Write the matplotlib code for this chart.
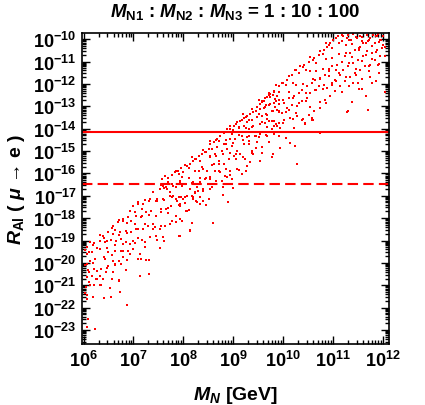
import numpy as np
import matplotlib
matplotlib.use("Agg")
import matplotlib.pyplot as plt
from matplotlib.ticker import LogLocator, FuncFormatter

plt.rcParams['font.family'] = ['Liberation Sans', 'DejaVu Sans']
plt.rcParams['font.weight'] = 'bold'
plt.rcParams['axes.labelweight'] = 'bold'
plt.rcParams['mathtext.fontset'] = 'custom'
plt.rcParams['mathtext.rm'] = 'Liberation Sans:bold'
plt.rcParams['mathtext.it'] = 'Liberation Sans:italic:bold'
plt.rcParams['mathtext.bf'] = 'Liberation Sans:bold'

# scan points as log10(M_N/GeV), log10(R_Al)
log_mn = [
    # low masses
    6.06, 6.08, 6.24, 6.88, 6.06, 6.56, 6.74, 6.06, 6.05, 6.13, 6.20, 6.36, 6.53,
    6.26, 6.40, 6.72, 7.14, 7.32, 6.06, 6.16, 6.33, 6.46, 6.60, 6.86, 6.08, 6.20,
    6.36, 6.50, 6.63, 6.76, 6.06, 6.13, 6.23, 6.43, 6.60, 6.72, 6.80, 6.93, 7.16,
    7.26, 6.06, 6.16, 6.50, 6.63, 6.76, 6.90, 7.00, 7.13, 7.53, 6.06, 6.13, 6.20,
    6.33, 6.43, 6.56, 6.66, 6.76, 6.86, 7.00, 7.10, 7.23, 7.33, 7.46, 7.60, 7.93,
    8.13, 6.40, 6.50, 6.60, 6.73, 6.86, 6.96, 7.06, 7.20, 7.30, 7.43, 7.53, 7.63,
    7.73, 7.86, 7.93, 8.06, 6.60, 6.70, 6.80, 6.90, 6.96, 7.06, 7.16, 7.26, 7.36,
    7.46, 7.56, 7.66, 7.76, 7.93, 7.00, 7.10, 7.20, 7.33, 7.46, 7.60, 7.73, 7.86,
    7.96, 8.20, 8.26, 7.40, 7.53, 7.66, 7.80, 7.93, 8.06, 8.20, 8.23, 8.30,
    8.80, 8.90, 8.60, 8.14, 8.07, 7.92,
    # middle band
    7.57, 7.64, 7.70, 7.77, 7.84, 7.90, 7.95, 8.00, 8.07, 8.14, 8.20, 8.26, 8.31,
    8.38, 8.44, 8.51, 8.54, 8.61, 8.67, 8.74, 8.81, 8.87, 8.94, 9.01, 9.07, 9.14,
    9.21, 9.27, 9.34, 9.40, 9.47, 9.54, 9.61, 9.67, 9.74, 9.81, 9.87, 9.91,
    7.60, 7.67, 7.74, 7.80, 7.87, 7.94, 8.00, 8.07, 8.17, 8.20, 8.27, 8.34, 8.40,
    8.51, 8.14, 8.27, 8.40, 8.54, 8.77, 8.87, 8.97, 7.94, 8.04, 8.34, 8.44, 8.54,
    8.64, 8.74, 8.84, 8.94, 9.07, 9.17, 9.27, 8.31, 8.38, 8.47, 8.61, 8.71, 8.81,
    8.91, 9.01, 9.14, 9.24, 9.34, 9.40, 9.54, 8.54, 8.64, 8.77, 8.87, 8.97, 9.07,
    9.21, 9.31, 9.37, 9.47, 9.57, 8.67, 8.81, 8.94, 9.04, 9.17, 9.27, 9.44, 9.54,
    9.67, 9.81, 9.91, 8.87, 8.97, 9.11, 9.21, 9.31, 9.40, 9.54, 9.67, 9.77, 9.87,
    9.17, 9.27, 9.37, 9.47, 9.57, 9.67, 9.81, 9.54, 9.64, 9.74, 9.84, 9.91, 9.74,
    9.84,
    # high masses
    9.57, 9.64, 9.71, 9.81, 9.91, 9.97, 10.07, 10.17, 10.24, 10.34, 10.41, 10.51,
    10.61, 10.71, 10.81, 10.88, 10.94, 11.01, 11.11, 11.21, 11.31, 11.41, 11.54,
    11.68, 11.81, 11.91, 12.01, 9.61, 9.71, 9.81, 9.91, 10.01, 10.11, 10.21, 10.31,
    10.38, 10.48, 10.58, 10.64, 10.74, 10.84, 10.91, 10.98, 11.08, 11.18, 11.24,
    11.34, 11.44, 11.54, 11.61, 11.71, 11.84, 11.94, 12.01, 9.67, 9.77, 9.87, 9.97,
    10.07, 10.17, 10.27, 10.38, 10.48, 10.54, 10.64, 10.71, 10.81, 10.88, 10.98,
    11.04, 11.14, 11.21, 11.31, 11.41, 11.51, 11.61, 11.68, 11.78, 11.88, 11.98,
    9.64, 9.77, 9.91, 10.01, 10.14, 10.27, 10.38, 10.51, 10.61, 10.74, 10.84, 10.94,
    11.04, 11.14, 11.24, 11.34, 11.44, 11.54, 11.64, 11.74, 11.84, 11.94, 10.44,
    10.58, 11.31, 11.71, 11.51, 11.41, 11.74, 11.91, 10.74, 9.81, 9.94, 10.21,
    11.18, 11.28, 11.37, 11.48, 11.58, 11.74, 11.88, 11.96, 10.27, 10.24, 10.13,
    11.28, 11.58, 10.44, 10.58, 9.77, 9.94,
]
log_r = [
    # low masses
    -22.87, -22.53, -22.95, -21.90, -21.61, -21.53, -21.28, -21.43, -21.09, -21.01,
    -21.01, -20.98, -21.13, -20.71, -20.71, -20.79, -20.57, -20.49, -20.64, -20.57,
    -20.57, -20.42, -20.42, -20.30, -20.34, -20.27, -20.27, -20.12, -20.04, -20.04,
    -20.04, -19.90, -19.82, -19.82, -19.90, -19.90, -19.75, -19.60, -19.82, -19.85,
    -19.60, -19.52, -19.52, -19.49, -19.45, -19.45, -19.38, -19.60, -19.35, -19.30,
    -19.08, -19.11, -19.00, -19.05, -18.96, -19.00, -18.93, -19.05, -19.00, -18.90,
    -19.05, -18.85, -18.78, -18.85, -18.78, -18.56, -18.78, -18.63, -18.71, -18.63,
    -18.56, -18.63, -18.48, -18.48, -18.33, -18.41, -18.48, -18.33, -18.26, -18.18,
    -18.04, -17.66, -18.33, -18.18, -18.04, -17.96, -18.11, -17.89, -17.96, -17.74,
    -17.66, -17.89, -17.74, -17.59, -17.44, -17.44, -17.44, -17.37, -17.37, -17.14,
    -17.22, -17.14, -16.99, -17.14, -17.07, -17.07, -17.22, -16.85, -16.70, -16.62,
    -16.55, -16.40, -16.47, -16.40, -16.85, -16.77,
    -16.96, -17.26, -18.23, -18.51, -17.66, -18.81,
    # middle band
    -16.25, -16.13, -16.22, -16.07, -15.95, -15.88, -15.77, -15.95, -15.68, -15.58,
    -15.43, -15.36, -15.21, -15.13, -15.03, -14.91, -14.69, -14.61, -14.46, -14.31,
    -14.21, -14.13, -14.02, -13.87, -13.72, -13.64, -13.54, -13.42, -13.35, -13.27,
    -13.05, -12.90, -12.75, -12.60, -12.45, -12.35, -12.53, -12.90,
    -16.55, -16.69, -16.84, -16.99, -17.22, -17.36, -17.14, -16.99, -16.99, -17.14,
    -17.29, -17.07, -17.22, -17.14, -16.69, -16.62, -16.69, -16.69, -16.32, -16.17,
    -16.25, -16.32, -16.47, -16.40, -16.25, -16.25, -15.88, -15.95, -16.10, -15.88,
    -15.80, -16.02, -15.66, -15.88, -15.73, -15.88, -15.58, -15.43, -15.58, -15.36,
    -15.21, -15.13, -15.36, -15.50, -15.13, -15.43, -15.28, -15.13, -14.98, -14.91,
    -14.76, -14.98, -14.69, -14.54, -14.98, -14.61, -14.83, -14.83, -14.69, -14.46,
    -14.46, -14.31, -14.39, -14.31, -14.24, -14.31, -14.24, -14.31, -14.02, -14.24,
    -13.99, -13.87, -14.02, -13.87, -13.79, -13.94, -14.02, -13.87, -13.60, -13.72,
    -13.60, -13.49, -13.42, -13.57, -13.64, -13.12, -13.05, -12.90, -13.05, -13.27,
    -12.60, -12.68,
    # high masses
    -12.78, -12.63, -12.48, -12.33, -12.11, -11.96, -11.81, -11.59, -11.37, -11.22,
    -11.14, -11.00, -10.85, -10.70, -10.47, -10.33, -10.18, -10.03, -9.88, -9.85,
    -9.80, -9.78, -9.85, -9.80, -9.80, -9.78, -9.85, -13.08, -12.93, -12.86, -12.71,
    -12.86, -12.63, -12.56, -12.41, -12.26, -12.11, -11.96, -11.81, -11.74, -11.59,
    -11.44, -11.22, -11.14, -11.00, -10.77, -10.62, -10.47, -10.33, -10.18, -10.10,
    -10.18, -10.03, -10.25, -13.38, -13.23, -13.15, -13.30, -13.08, -12.93, -13.00,
    -12.78, -12.63, -12.41, -12.26, -12.11, -12.04, -12.19, -11.96, -11.81, -11.59,
    -11.37, -11.22, -11.07, -10.92, -10.77, -10.55, -10.62, -10.47, -10.40, -13.75,
    -13.67, -13.75, -13.60, -13.53, -13.45, -13.60, -13.38, -13.23, -13.08, -12.71,
    -12.56, -12.33, -12.11, -11.89, -11.67, -11.52, -11.37, -11.22, -11.14, -10.92,
    -10.77, -13.75, -13.60, -13.23, -13.18, -11.96, -11.96, -11.67, -11.14, -14.20,
    -13.90, -13.97, -13.97, -10.10, -9.95, -10.03, -9.95, -10.10, -9.95, -9.88,
    -10.03, -15.58, -14.79, -14.66, -13.25, -12.23, -13.79, -13.54, -15.28, -14.88,
]

# more scan points filling the band, three per mass value
fill_mn = [
    6.02, 6.11, 6.19, 6.27, 6.34, 6.41, 6.48, 6.57, 6.64, 6.71, 6.79, 6.87, 6.94,
    7.03, 7.09, 7.18, 7.24, 7.31, 7.39, 7.47, 7.55, 7.62, 7.69, 7.78, 7.85, 7.91,
    7.98, 8.04, 8.11, 8.18, 8.24, 8.33, 8.39, 8.46, 8.53, 8.58, 8.66, 8.72, 8.79,
    8.85, 8.93, 8.99, 9.05, 9.12, 9.19, 9.26, 9.32, 9.38, 9.45, 9.52, 9.58, 9.65,
    9.72, 9.79, 9.86, 9.92, 9.99, 10.05, 10.12, 10.19, 10.26, 10.32, 10.39, 10.46,
    10.53, 10.59, 10.66, 10.73, 10.79, 10.86, 10.92, 10.99, 11.06, 11.13, 11.19,
    11.26, 11.33, 11.39, 11.46, 11.52, 11.59, 11.66, 11.73, 11.79, 11.86, 11.93,
    12.04,
]
fill_r_a = [
    -19.41, -19.51, -19.22, -19.34, -18.74, -18.88, -19.00, -18.44, -18.55, -18.07,
    -18.13, -18.23, -17.70, -17.74, -17.30, -17.57, -17.20, -17.25, -16.82, -17.14,
    -16.51, -16.64, -16.37, -16.47, -15.88, -16.03, -16.15, -15.64, -15.76, -15.28,
    -15.37, -15.45, -14.95, -15.03, -14.56, -14.91, -14.51, -14.57, -14.16, -14.52,
    -13.88, -14.04, -13.79, -13.92, -13.33, -13.47, -13.60, -13.10, -13.22, -12.73,
    -12.83, -12.95, -12.42, -12.50, -12.04, -12.36, -11.98, -12.05, -11.63, -11.97,
    -11.36, -11.51, -11.24, -11.38, -10.78, -10.94, -11.06, -10.53, -10.67, -10.19,
    -10.28, -10.40, -9.95, -10.16, -9.83, -10.27, -10.02, -10.20, -9.92, -10.39,
    -9.91, -10.18, -10.04, -10.31, -9.85, -10.12, -10.37,
]
fill_r_b = [
    -20.11, -20.41, -19.99, -20.37, -19.39, -19.73, -19.35, -19.67, -19.20, -18.76,
    -19.17, -18.66, -19.15, -18.24, -18.50, -17.91, -18.26, -17.86, -18.24, -17.25,
    -17.57, -17.18, -17.54, -17.04, -16.60, -17.04, -16.55, -17.06, -16.19, -16.43,
    -15.89, -16.19, -15.81, -16.21, -15.23, -15.61, -15.21, -15.58, -15.12, -14.70,
    -15.10, -14.63, -15.15, -14.27, -14.51, -13.96, -14.31, -13.93, -14.33, -13.35,
    -13.71, -13.33, -13.68, -13.22, -12.78, -13.22, -12.73, -13.25, -12.37, -12.61,
    -12.06, -12.41, -12.01, -12.41, -11.43, -11.79, -11.41, -11.76, -11.32, -10.88,
    -11.32, -10.83, -11.40, -10.66, -11.03, -10.61, -11.08, -10.81, -11.34, -10.50,
    -10.97, -10.72, -11.21, -10.88, -10.57, -11.13, -10.77,
]
fill_r_c = [
    -21.36, -20.84, -21.54, -20.71, -21.00, -21.57, -20.22, -20.70, -20.09, -20.75,
    -19.48, -19.87, -19.61, -19.09, -19.83, -18.98, -19.29, -19.86, -18.49, -18.99,
    -18.37, -19.02, -17.77, -18.14, -17.89, -17.42, -18.14, -17.34, -17.64, -18.21,
    -16.87, -17.35, -16.77, -17.43, -16.17, -16.62, -16.35, -15.88, -16.60, -15.81,
    -16.08, -16.67, -15.34, -15.85, -15.25, -15.91, -14.67, -15.10, -14.85, -14.36,
    -15.10, -14.29, -14.58, -15.15, -13.80, -14.33, -13.73, -14.41, -13.15, -13.56,
    -13.31, -12.84, -13.56, -12.75, -13.04, -13.63, -12.28, -12.79, -12.21, -12.87,
    -11.63, -12.04, -11.86, -11.51, -12.36, -11.68, -12.11, -12.81, -11.59, -12.24,
    -11.77, -12.56, -11.44, -11.98, -11.86, -11.51, -12.36,
]

# experimental limits on R_Al
limit_now = 7.0e-15
limit_future = 3.2e-17

xtick_exp = [6, 7, 8, 9, 10, 11, 12]
ytick_exp = list(range(-23, -9))

mn = 10.0 ** np.concatenate([log_mn, fill_mn, fill_mn, fill_mn])
r = 10.0 ** np.concatenate([log_r, fill_r_a, fill_r_b, fill_r_c])

fig = plt.figure(figsize=(4.25, 4.06), dpi=100)
ax = fig.add_axes([0.193, 0.150, 0.722, 0.766])

ax.plot(mn, r, 's', color='red', markersize=1.8, markeredgewidth=0)
ax.axhline(limit_now, color='red', lw=1.5)
ax.axhline(limit_future, color='red', lw=1.5, ls=(0, (5, 2.5)))

ax.set_xscale('log')
ax.set_yscale('log')
ax.set_xlim(10 ** 5.97, 10 ** 12.12)
ax.set_ylim(10 ** -23.63, 10 ** -9.73)

ax.xaxis.set_major_locator(LogLocator(base=10, numticks=100))
ax.yaxis.set_major_locator(LogLocator(base=10, numticks=100))
ax.xaxis.set_minor_locator(LogLocator(base=10, subs=np.arange(2, 10), numticks=100))
ax.yaxis.set_minor_locator(LogLocator(base=10, subs=np.arange(2, 10), numticks=100))
fmt = FuncFormatter(lambda v, p: r'$\mathbf{10^{%d}}$' % round(np.log10(v)))
ax.xaxis.set_major_formatter(fmt)
ax.yaxis.set_major_formatter(fmt)
ax.set_xticks([10.0 ** e for e in xtick_exp])
ax.set_yticks([10.0 ** e for e in ytick_exp])

ax.tick_params(which='both', direction='in', top=True, right=True, width=1.0)
ax.tick_params(which='major', length=6, labelsize=13, pad=4)
ax.tick_params(which='minor', length=3)
for s in ax.spines.values():
    s.set_linewidth(1.2)

ax.set_xlabel(r'$M_N$ [GeV]', fontsize=14, labelpad=10)
ax.set_ylabel(r'$R_{\rm Al}$ ( $\mu$ → e )', fontsize=14, labelpad=4)
fig.text(0.554, 0.97, r'$M_{\rm N1}$ : $M_{\rm N2}$ : $M_{\rm N3}$ = 1 : 10 : 100',
         ha='center', va='center', fontsize=13.5, fontweight='bold')

plt.savefig('out.png', dpi=100)
